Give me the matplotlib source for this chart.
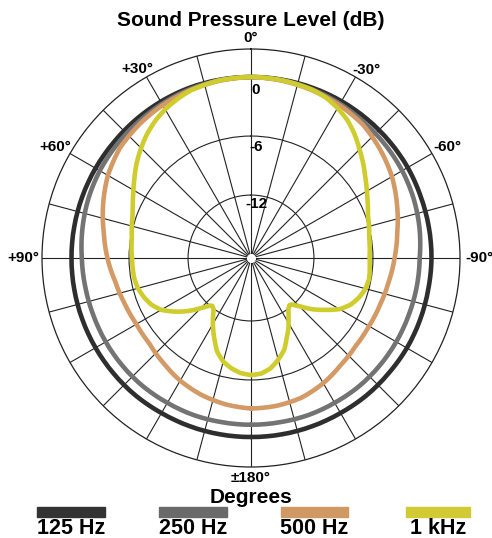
import numpy as np
import matplotlib
matplotlib.use("Agg")
import matplotlib.pyplot as plt
from matplotlib.patches import Rectangle

plt.rcParams['font.family'] = ['Liberation Sans', 'DejaVu Sans']

# polar response, dB relative to on-axis; + angles to the left, - to the right
angles = list(range(-180, 181, 10))
db_125 = [-0.2, -0.2, -0.2, -0.2, -0.15, -0.15, -0.1, -0.1, -0.1, -0.05,
          -0.05, -0.05, 0, 0, 0, 0, 0, 0, 0, 0, 0, -0.05, -0.1, -0.15,
          -0.15, -0.15, -0.15, -0.15, -0.15, -0.15, -0.15, -0.15, -0.15,
          -0.2, -0.2, -0.2, -0.2]
db_250 = [-1.45, -1.45, -1.4, -1.4, -1.35, -1.35, -1.35, -1.35, -1.3, -1.25,
          -1.0, -0.8, -0.65, -0.55, -0.45, -0.3, -0.15, -0.05, 0, -0.05,
          -0.15, -0.3, -0.45, -0.55, -0.65, -0.8, -1.0, -1.2, -1.3, -1.35,
          -1.35, -1.35, -1.35, -1.4, -1.4, -1.45, -1.45]
db_500 = [-3.1, -3.15, -3.3, -3.7, -4.2, -4.5, -4.55, -4.45, -4.2, -3.8,
          -3.3, -2.6, -1.85, -1.25, -0.7, -0.45, -0.25, -0.1, 0, -0.1,
          -0.25, -0.45, -0.7, -1.0, -1.6, -2.4, -3.2, -3.8, -4.4, -4.75,
          -4.95, -4.9, -4.5, -4.0, -3.6, -3.3, -3.1]

angles_1k = [-180, -175, -170, -165, -160, -156, -152, -148, -144, -141, -139,
             -135, -130, -125, -120, -115, -110, -105, -100, -90, -80, -70,
             -65, -60, -55, -50, -45, -40, -35, -30, -25, -20, -10, 0,
             10, 20, 25, 30, 35, 40, 45, 50, 55, 60, 65, 70, 80, 90, 100,
             105, 110, 115, 120, 125, 130, 135, 139, 141, 144, 148, 152, 156,
             160, 165, 170, 175, 180]
db_1k = [-6.5, -6.6, -7.0, -7.7, -8.5, -9.5, -10.3, -11.2, -11.95, -12.2, -12.15,
         -11.5, -10.3, -9.2, -8.0, -7.2, -6.7, -6.35, -6.2, -6.35, -6.2, -5.75,
         -5.3, -4.8, -4.2, -3.5, -2.8, -2.0, -1.3, -0.8, -0.4, -0.2, -0.05, 0,
         -0.05, -0.3, -0.6, -0.95, -1.4, -1.95, -2.6, -3.25, -3.95, -4.6, -5.15,
         -5.6, -6.1, -6.3, -6.35, -6.5, -6.8, -7.2, -7.85, -8.9, -10.0, -11.2,
         -12.0, -12.15, -11.95, -11.1, -10.2, -9.3, -8.3, -7.5, -7.0, -6.65, -6.5]

series = [("125 Hz", angles, db_125, "#2e2e2e"),
          ("250 Hz", angles, db_250, "#737373"),
          ("500 Hz", angles, db_500, "#d49a66"),
          ("1 kHz", angles_1k, db_1k, "#cfcc2e")]

ring_values = [0, -6, -12]
ring_label_r = [-1.3, -7.1, -12.9]
angle_labels = ["0°", "+30°", "-30°", "+60°", "-60°", "±180°"]
angle_label_pos = [0, 31, -31.5, 60.5, -60.5, 180]
angle_label_r = [3.97, 3.97, 3.97, 4.45, 4.5, 3.97]

rmin, rmax = -18.4, 2.85

fig = plt.figure(figsize=(4.92, 5.38), dpi=100)
ax = fig.add_axes([42/492, 71/538, 418/492, 418/538], projection='polar')
ax.set_theta_zero_location('N')
ax.set_theta_direction(1)
ax.set_rlim(rmin, rmax)

ax.set_thetagrids(np.arange(0, 360, 15), labels=[''] * 24)
ax.set_rgrids([-12, -6], labels=['', ''])
ax.grid(True, color='#222222', lw=0.8)
ax.spines['polar'].set_color('#222222')
ax.spines['polar'].set_linewidth(0.9)

for name, ang, vals, col in series:
    ln, = ax.plot(np.deg2rad(ang), vals, color=col, lw=3.3, solid_capstyle='round',
                  solid_joinstyle='round', zorder=3)
    # draw segments along arcs instead of straight chords
    ln.get_path()._interpolation_steps = 40

ax.plot([0], [rmin], 'o', ms=5.5, mfc='white', mec='white', zorder=4, clip_on=False)

for v, r in zip(ring_values, ring_label_r):
    ax.annotate(str(v), xy=(0, r), xytext=(3.6, 0), textcoords='offset points',
                ha='center', va='center', fontsize=11, fontweight='bold', zorder=2)

for s, a, r in zip(angle_labels, angle_label_pos, angle_label_r):
    ax.text(np.deg2rad(a), r, s, ha='center', va='center', fontsize=11,
            fontweight='bold', clip_on=False)
ax.text(np.deg2rad(90), 3.15, "+90°", ha='right', va='center', fontsize=11,
        fontweight='bold', clip_on=False)
ax.text(np.deg2rad(-90), 3.36, "-90°", ha='left', va='center', fontsize=11,
        fontweight='bold', clip_on=False)

fig.text(251/492, 1 - 21/538, "Sound Pressure Level (dB)", ha='center', va='center',
         fontsize=15, fontweight='bold')
fig.text(251/492, 1 - 497.5/538, "Degrees", ha='center', va='center',
         fontsize=15, fontweight='bold')

# legend: bar above each label
bar_left = [37.3, 158.7, 280.7, 406]
bar_width = [68, 68, 67.6, 64]
legend_colors = ["#333333", "#6a6a6a", "#d09862", "#d2ca33"]
for (name, _, _, _), x0, w, c in zip(series, bar_left, bar_width, legend_colors):
    fig.patches.append(Rectangle((x0/492, (538-516.7)/538), w/492, 9.4/538,
                                 transform=fig.transFigure, color=c))
    fig.text((x0 + w/2)/492, (538-533.7)/538, name, ha='center', va='baseline',
             fontsize=15.5, fontweight='bold')

fig.savefig("out.png", dpi=100)
